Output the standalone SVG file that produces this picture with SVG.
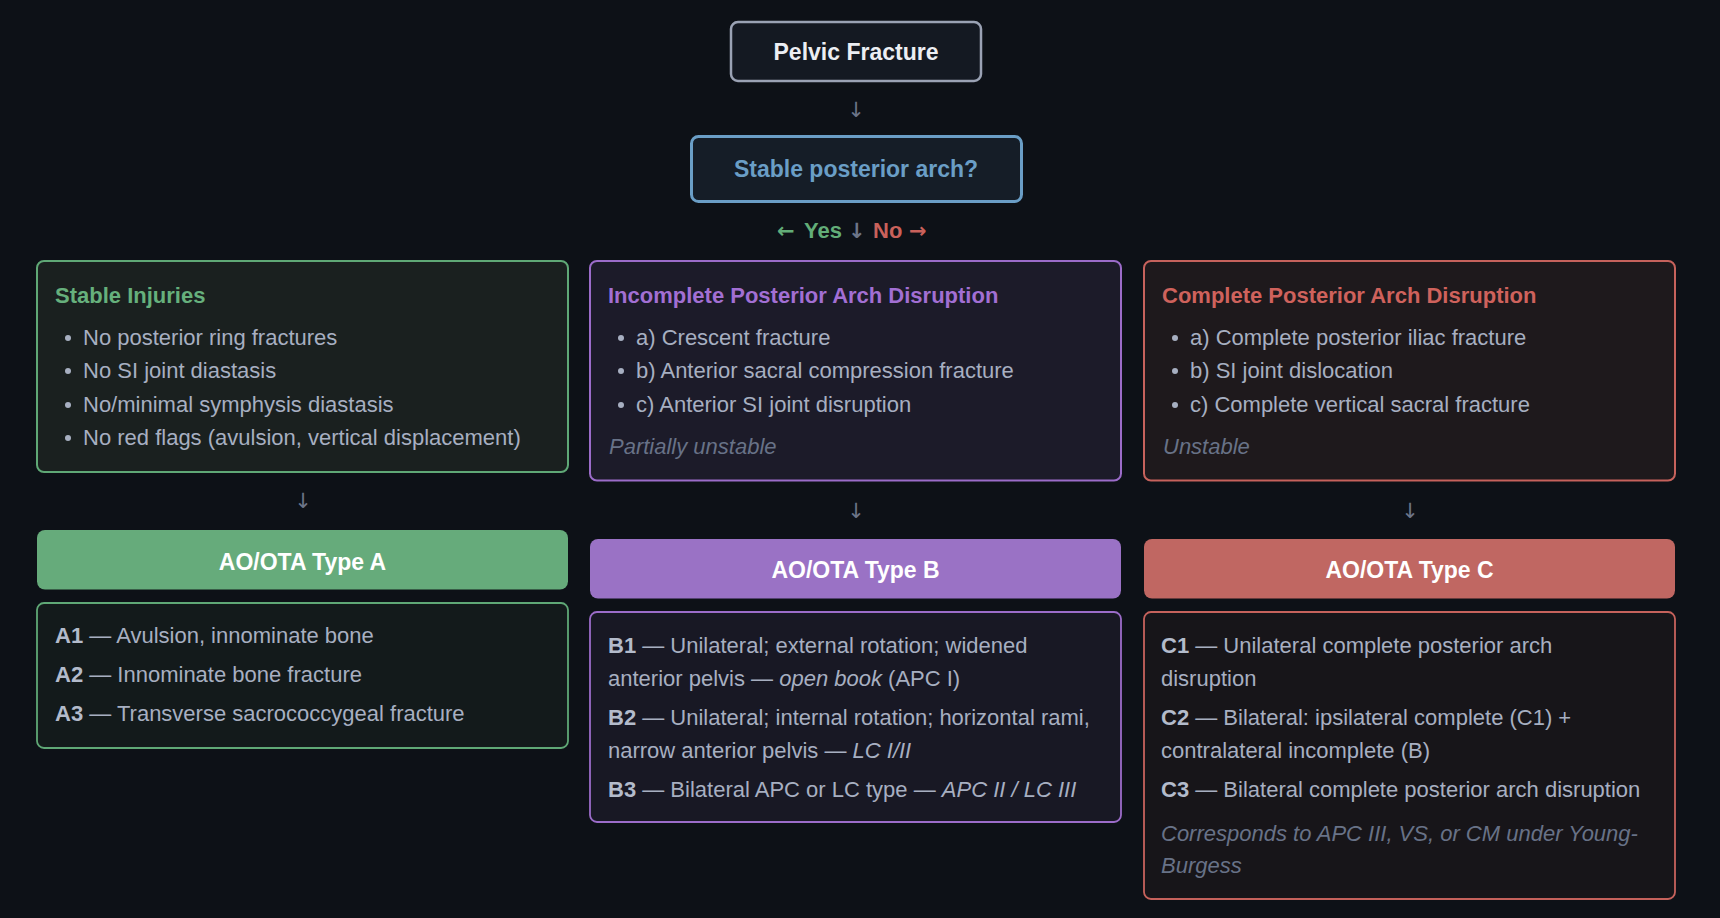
<svg xmlns="http://www.w3.org/2000/svg" width="1720" height="918" viewBox="0 0 1720 918">
<style>
text{font-family:"Liberation Sans",Arial,sans-serif}
.h{font-size:23px;font-weight:700;text-anchor:middle}
.t{font-size:22px;font-weight:700}
.b{font-size:22px;fill:#a7afc1}
.b tspan.k{font-weight:700;fill:#b3bbcb}
.i{font-style:italic}
.n{font-size:22px;font-style:italic;fill:#687287}
.arr{font-family:"DejaVu Sans",sans-serif;font-size:21px;fill:#6c7588;text-anchor:middle}
.ag{font-family:"DejaVu Sans",sans-serif;font-size:21px;font-weight:700}
.dot{fill:#a7afc1}
</style>
<rect width="1720" height="918" fill="#0d1117"/>
<g id="connectors">
<text class="arr" x="856" y="117">↓</text>
<text id="yesno" y="238" font-size="22" font-weight="700"><tspan class="ag" x="777" fill="#62ad78">←</tspan><tspan x="804" fill="#62ad78">Yes</tspan><tspan class="ag" x="848" fill="#6c7588" font-weight="400">↓</tspan><tspan x="873" fill="#c9615b">No</tspan><tspan class="ag" x="909" fill="#c9615b">→</tspan></text>
<text class="arr" x="303" y="508">↓</text>
<text class="arr" x="856" y="518">↓</text>
<text class="arr" x="1410" y="518">↓</text>
</g>
<g id="pelvic">
<rect x="731" y="22" width="250" height="59" rx="7" fill="#141922" stroke="#9aa2b4" stroke-width="2.5"/>
<text class="h" x="856" y="60" fill="#eceef3">Pelvic Fracture</text>
</g>
<g id="decision">
<rect x="691.5" y="136.5" width="330" height="65" rx="7" fill="#151d27" stroke="#6a9ec6" stroke-width="3"/>
<text class="h" x="856" y="177" fill="#6a9ec6">Stable posterior arch?</text>
</g>
<g id="stable">
<rect x="37" y="261" width="531" height="211" rx="7" fill="#1a201f" stroke="#5fa876" stroke-width="2"/>
<text class="t" x="55" y="303" fill="#66b07c">Stable Injuries</text>
<circle class="dot" cx="68" cy="338" r="3"/><text class="b" x="83" y="345">No posterior ring fractures</text>
<circle class="dot" cx="68" cy="371" r="3"/><text class="b" x="83" y="378">No SI joint diastasis</text>
<circle class="dot" cx="68" cy="405" r="3"/><text class="b" x="83" y="412">No/minimal symphysis diastasis</text>
<circle class="dot" cx="68" cy="438" r="3"/><text class="b" x="83" y="445">No red flags (avulsion, vertical displacement)</text>
</g>
<g id="incomplete">
<rect x="590" y="261" width="531" height="219.5" rx="7" fill="#1c1b29" stroke="#9b6cc9" stroke-width="2"/>
<text class="t" x="608" y="303" fill="#a26fd3">Incomplete Posterior Arch Disruption</text>
<circle class="dot" cx="621" cy="338" r="3"/><text class="b" x="636" y="345">a) Crescent fracture</text>
<circle class="dot" cx="621" cy="371" r="3"/><text class="b" x="636" y="378">b) Anterior sacral compression fracture</text>
<circle class="dot" cx="621" cy="405" r="3"/><text class="b" x="636" y="412">c) Anterior SI joint disruption</text>
<text class="n" x="609" y="454">Partially unstable</text>
</g>
<g id="complete">
<rect x="1144" y="261" width="531" height="219.5" rx="7" fill="#1e191c" stroke="#c6625c" stroke-width="2"/>
<text class="t" x="1162" y="303" fill="#cf625c">Complete Posterior Arch Disruption</text>
<circle class="dot" cx="1175" cy="338" r="3"/><text class="b" x="1190" y="345">a) Complete posterior iliac fracture</text>
<circle class="dot" cx="1175" cy="371" r="3"/><text class="b" x="1190" y="378">b) SI joint dislocation</text>
<circle class="dot" cx="1175" cy="405" r="3"/><text class="b" x="1190" y="412">c) Complete vertical sacral fracture</text>
<text class="n" x="1163" y="454">Unstable</text>
</g>
<g id="typeA">
<rect x="37" y="530" width="531" height="59.5" rx="8" fill="#66ab7b"/>
<text class="h" x="302.5" y="569.5" fill="#ffffff">AO/OTA Type A</text>
</g>
<g id="typeA-details">
<rect x="37" y="603" width="531" height="145" rx="7" fill="#131a1b" stroke="#5fa876" stroke-width="1.8"/>
<text class="b" x="55" y="643"><tspan class="k">A1</tspan> — Avulsion, innominate bone</text>
<text class="b" x="55" y="682"><tspan class="k">A2</tspan> — Innominate bone fracture</text>
<text class="b" x="55" y="721"><tspan class="k">A3</tspan> — Transverse sacrococcygeal fracture</text>
</g>
<g id="typeB">
<rect x="590" y="539" width="531" height="59.5" rx="8" fill="#9a72c5"/>
<text class="h" x="855.5" y="578" fill="#ffffff">AO/OTA Type B</text>
</g>
<g id="typeB-details">
<rect x="590" y="612" width="531" height="210" rx="7" fill="#181824" stroke="#9b6cc9" stroke-width="1.8"/>
<text class="b" x="608" y="653"><tspan class="k">B1</tspan> — Unilateral; external rotation; widened</text>
<text class="b" x="608" y="686">anterior pelvis — <tspan class="i">open book</tspan> (APC I)</text>
<text class="b" x="608" y="725"><tspan class="k">B2</tspan> — Unilateral; internal rotation; horizontal rami,</text>
<text class="b" x="608" y="758">narrow anterior pelvis — <tspan class="i">LC I/II</tspan></text>
<text class="b" x="608" y="797"><tspan class="k">B3</tspan> — Bilateral APC or LC type — <tspan class="i">APC II / LC III</tspan></text>
</g>
<g id="typeC">
<rect x="1144" y="539" width="531" height="59.5" rx="8" fill="#c06762"/>
<text class="h" x="1409.5" y="578" fill="#ffffff">AO/OTA Type C</text>
</g>
<g id="typeC-details">
<rect x="1144" y="612" width="531" height="287" rx="7" fill="#171519" stroke="#c6625c" stroke-width="1.8"/>
<text class="b" x="1161" y="653"><tspan class="k">C1</tspan> — Unilateral complete posterior arch</text>
<text class="b" x="1161" y="686">disruption</text>
<text class="b" x="1161" y="725"><tspan class="k">C2</tspan> — Bilateral: ipsilateral complete (C1) +</text>
<text class="b" x="1161" y="758">contralateral incomplete (B)</text>
<text class="b" x="1161" y="797"><tspan class="k">C3</tspan> — Bilateral complete posterior arch disruption</text>
<text class="n" x="1161" y="841">Corresponds to APC III, VS, or CM under Young-</text>
<text class="n" x="1161" y="873">Burgess</text>
</g>
</svg>
